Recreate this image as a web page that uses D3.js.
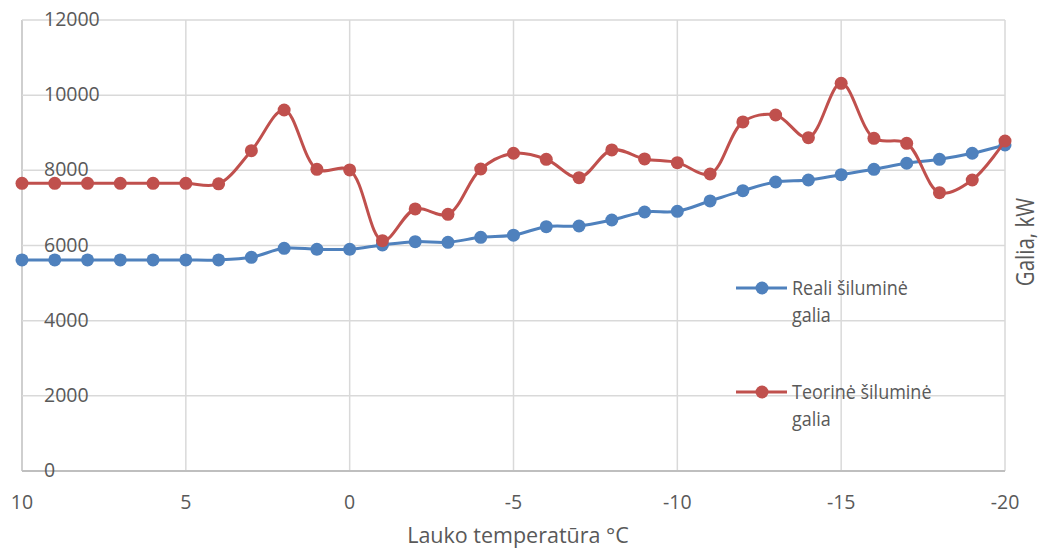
<!DOCTYPE html>
<html>
<head>
<meta charset="utf-8">
<script src="https://cdn.jsdelivr.net/npm/d3@7"></script>
<style>
  body { margin: 0; background: #fff; }
  text { font-family: "Open Sans", sans-serif; fill: #595959; }
</style>
</head>
<body>
<div id="chart"></div>
<script>
// outdoor temperature, 10 .. -20 °C
var temps = d3.range(10, -21, -1);
// Reali šiluminė galia, kW
var realPower = [5615, 5615, 5615, 5615, 5615, 5615, 5615, 5686, 5925, 5899, 5899,
  6014, 6102, 6085, 6218, 6275, 6501, 6519, 6679, 6892, 6910,
  7185, 7460, 7690, 7743, 7885, 8028, 8188, 8294, 8454, 8675];
// Teorinė šiluminė galia, kW
var theoryPower = [7655, 7655, 7655, 7655, 7655, 7655, 7640, 8523, 9606, 8028, 8010,
  6128, 6972, 6830, 8036, 8454, 8294, 7805, 8542, 8303, 8205,
  7903, 9287, 9473, 8870, 10316, 8852, 8719, 7406, 7743, 8780];
var xTicks = [10, 5, 0, -5, -10, -15, -20];
var yTicks = [0, 2000, 4000, 6000, 8000, 10000, 12000];
var seriesNames = [["Reali šiluminė", "galia"], ["Teorinė šiluminė", "galia"]];
var colors = ["#4F81BD", "#C0504D"];

var W = 1044, H = 550;
var margin = {top: 20, right: 39, bottom: 79, left: 22},
    width = W - margin.left - margin.right,
    height = H - margin.top - margin.bottom;

var svg = d3.select("#chart")
  .append("svg")
    .attr("width", W)
    .attr("height", H);
var g = svg.append("g")
    .attr("transform", "translate(" + margin.left + "," + margin.top + ")");

var x = d3.scaleLinear().domain([10, -20]).range([0, width]);
var y = d3.scaleLinear().domain([0, 12000]).range([height, 0]);

// grid
g.append("g").selectAll("line").data(xTicks).enter().append("line")
  .attr("x1", function(d) { return x(d); }).attr("x2", function(d) { return x(d); })
  .attr("y1", 0).attr("y2", height)
  .attr("stroke", function(d) { return d === 10 ? "#bfbfbf" : "#d9d9d9"; })
  .attr("stroke-width", 1.5);
g.append("g").selectAll("line").data(yTicks).enter().append("line")
  .attr("x1", 0).attr("x2", width)
  .attr("y1", function(d) { return y(d); }).attr("y2", function(d) { return y(d); })
  .attr("stroke", function(d) { return d === 0 ? "#bfbfbf" : "#d9d9d9"; })
  .attr("stroke-width", function(d) { return d === 0 ? 2 : 1.5; });

// y labels sit inside the plot, left aligned
g.append("g").selectAll("text").data(yTicks).enter().append("text")
  .attr("x", 22)
  .attr("y", function(d) { return y(d) - 1; })
  .attr("dy", "0.36em")
  .attr("font-size", 19.5)
  .text(function(d) { return d; });

// x axis labels
g.append("g").selectAll("text").data(xTicks).enter().append("text")
  .attr("x", function(d) { return x(d); })
  .attr("y", height + 38)
  .attr("text-anchor", "middle")
  .attr("font-size", 19.5)
  .text(function(d) { return d; });

svg.append("text")
  .attr("x", 518).attr("y", 543)
  .attr("text-anchor", "middle")
  .attr("font-size", 21.5)
  .text("Lauko temperatūra °C");

// the right title looks stretched in the original, so scale it a bit
svg.append("text")
  .attr("transform", "translate(1034,242)rotate(-90)scale(1,1.22)")
  .attr("text-anchor", "middle")
  .attr("font-size", 20.5)
  .text("Galia, kW");

// lines
var line = d3.line()
  .x(function(d, i) { return x(temps[i]); })
  .y(function(d) { return y(d); })
  .curve(d3.curveCatmullRom.alpha(0.5));

[realPower, theoryPower].forEach(function(s, k) {
  g.append("path").datum(s)
    .attr("d", line)
    .attr("fill", "none")
    .attr("stroke", colors[k])
    .attr("stroke-width", 3);
  g.append("g").selectAll("circle").data(s).enter().append("circle")
    .attr("cx", function(d, i) { return x(temps[i]); })
    .attr("cy", function(d) { return y(d); })
    .attr("r", 6.5)
    .attr("fill", colors[k]);
});

// legend
var legendY = [288, 392];
seriesNames.forEach(function(n, k) {
  var lg = svg.append("g").attr("transform", "translate(736," + legendY[k] + ")");
  lg.append("line").attr("x1", 0).attr("x2", 51).attr("stroke", colors[k]).attr("stroke-width", 3);
  lg.append("circle").attr("cx", 26).attr("r", 6.5).attr("fill", colors[k]);
  lg.append("text").attr("transform", "translate(56,7)scale(1,1.15)").attr("font-size", 18).text(n[0]);
  lg.append("text").attr("transform", "translate(56,34)scale(1,1.15)").attr("font-size", 18).text(n[1]);
});
</script>
</body>
</html>
